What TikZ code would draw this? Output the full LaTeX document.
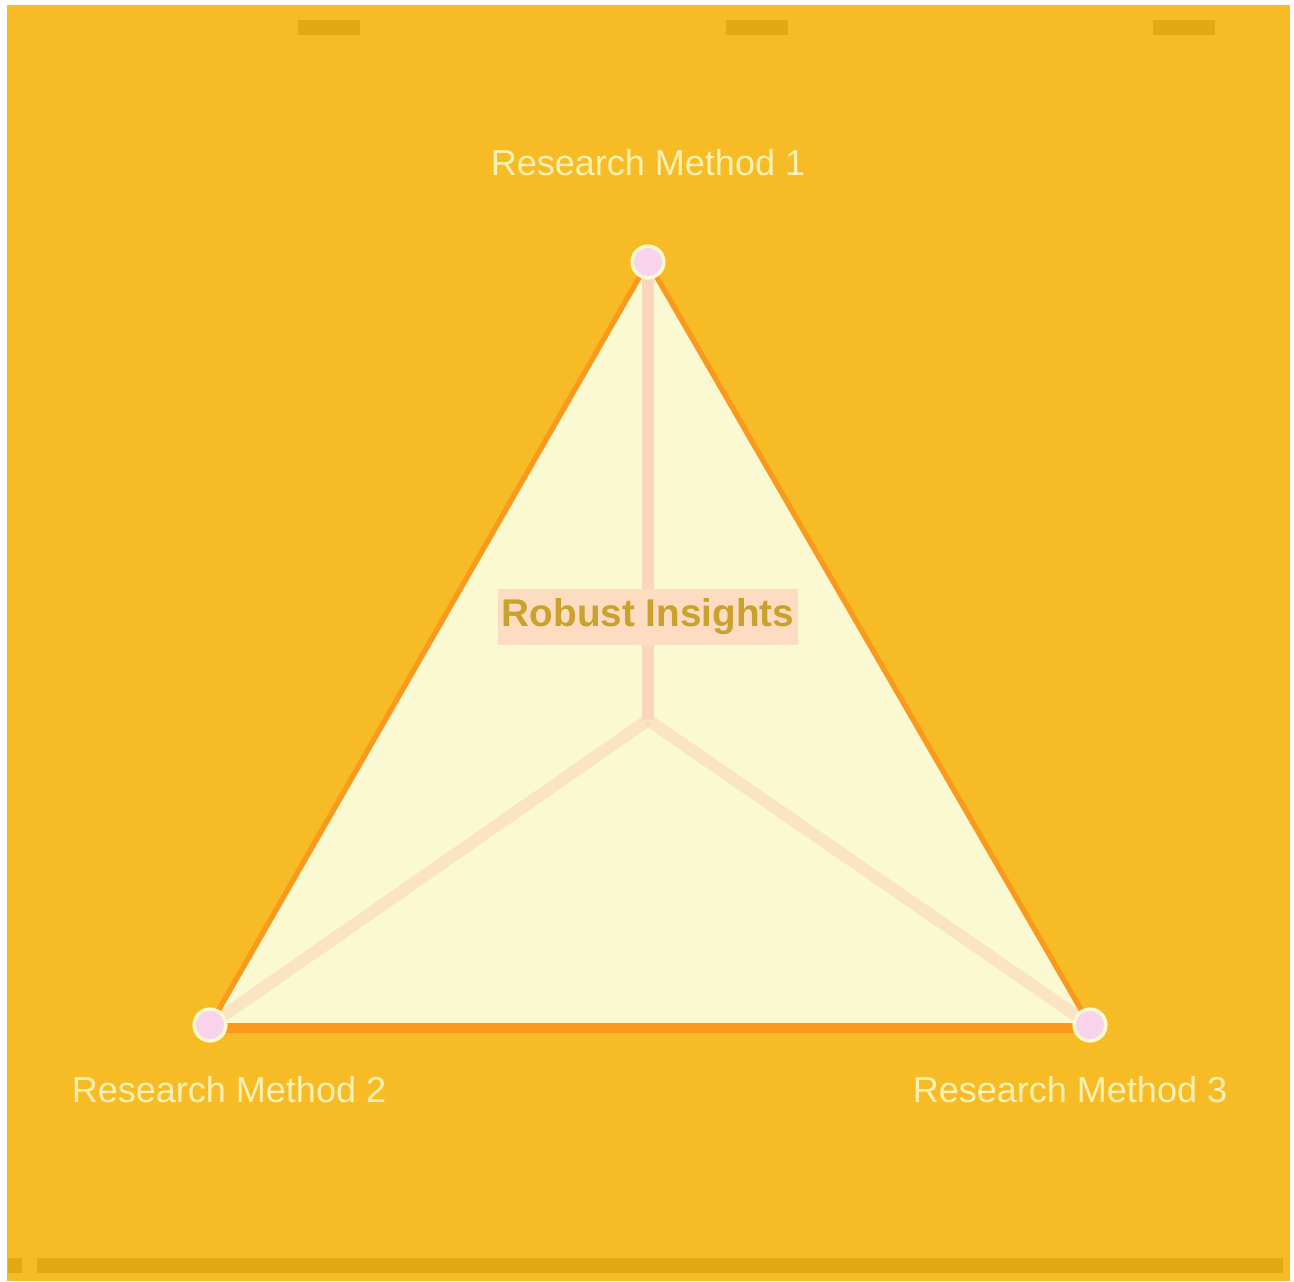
\documentclass[tikz,border=0pt]{standalone}
\usepackage{fontspec}
\setmainfont{Liberation Sans}
\definecolor{bgorange}{HTML}{F7BB26}
\definecolor{darkband}{HTML}{E3A812}
\definecolor{edgeorange}{HTML}{F99A1C}
\definecolor{trifill}{HTML}{FBF9D2}
\definecolor{spoke}{HTML}{FCD6BC}
\definecolor{boxsalmon}{HTML}{FDDCC2}
\definecolor{insight}{HTML}{C9A12C}
\definecolor{labelpale}{HTML}{FBF1B4}
\definecolor{markpink}{HTML}{F9D2EC}
\tikzset{
  methodlabel/.style={font=\fontsize{20.5}{24}\selectfont, text=labelpale, inner sep=2pt},
  vmark/.style={circle, fill=markpink, draw=trifill, line width=2pt, minimum size=18pt, inner sep=0pt},
  spokeline/.style={draw=spoke, line width=7pt},
  centerbox/.style={fill=boxsalmon, text=insight, font=\fontsize{22}{26}\selectfont\bfseries, minimum width=171pt, minimum height=32pt, inner sep=0pt},
  tick/.style={fill=darkband}
}
\begin{document}
\begin{tikzpicture}[x=0.02cm,y=-0.02cm]
\useasboundingbox (0,0) rectangle (1294,1281);
\fill[white] (0,0) rectangle (1294,1281);
\fill[bgorange] (7,5) rectangle (1290,1281);
% small marks and bottom band
\fill[tick] (298,20) rectangle (360,35);
\fill[tick] (726,20) rectangle (788,35);
\fill[tick] (1153,20) rectangle (1215,35);
\fill[darkband] (8,1258) rectangle (22,1273);
\fill[darkband] (37,1258) rectangle (1283,1273);
% triangle
\coordinate (A) at (648,262);
\coordinate (B) at (210,1025);
\coordinate (C) at (1090,1025);
\coordinate (O) at (648,720);
\fill[trifill] (A) -- (B) -- (C) -- cycle;
\draw[spokeline] (A) -- (O);
\draw[spokeline, draw opacity=0.6] (B) -- (O);
\draw[spokeline, draw opacity=0.6] (C) -- (O);
\draw[edgeorange, line width=3pt, line join=round] (A) -- (B);
\draw[edgeorange, line width=3pt, line join=round] (A) -- (C);
\draw[edgeorange, line width=6pt] ([yshift=-0.06cm]B) -- ([yshift=-0.06cm]C);
% centre box
\node[centerbox] (insights) at (648,617) {Robust Insights};
% vertex markers
\node[vmark] (ma) at (A) {};
\node[vmark] (mb) at (B) {};
\node[vmark] (mc) at (C) {};
% labels
\node[methodlabel] (l1) at (648,163) {Research Method 1};
\node[methodlabel] (l2) at (229,1090) {Research Method 2};
\node[methodlabel] (l3) at (1070,1090) {Research Method 3};
\end{tikzpicture}
\end{document}
